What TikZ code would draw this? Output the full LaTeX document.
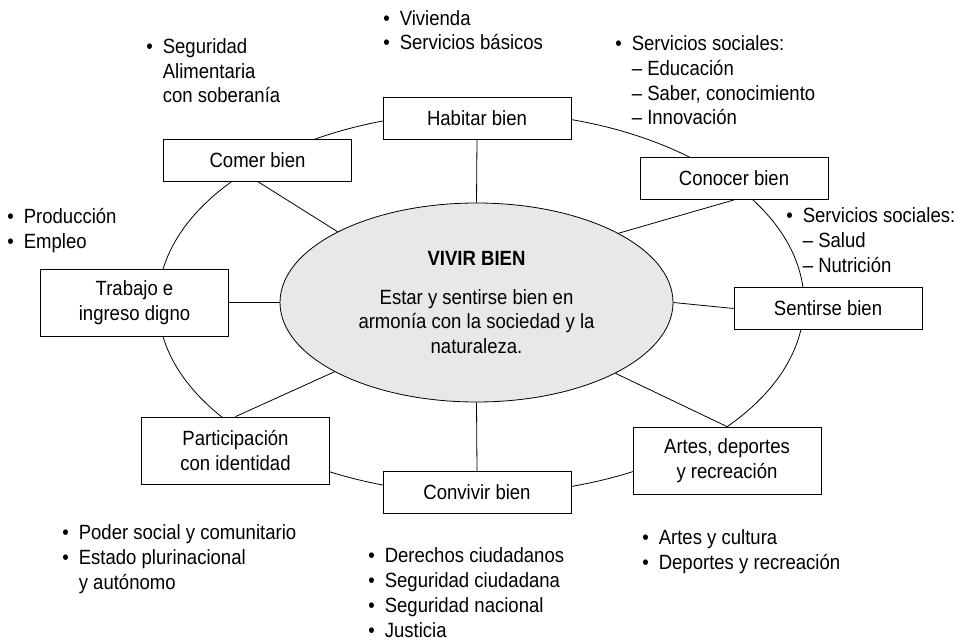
\documentclass[tikz,border=0pt]{standalone}
\usepackage{fontspec}
\setmainfont{Liberation Sans}[FakeStretch=0.9]
\usepackage{tikz}
\usetikzlibrary{shapes.geometric}

\newcommand{\itm}{\makebox[8.2pt][l]{\textbullet}}
\newcommand{\ind}{\hspace*{8.2pt}}

\begin{document}
\begin{tikzpicture}[x=0.5pt,y=-0.5pt,
  every node/.style={font=\fontsize{10.3}{12.4}\selectfont},
  box/.style={draw, fill=white, minimum width=94pt, minimum height=21pt, inner sep=0pt, align=center},
  boxtwo/.style={box, minimum height=33.5pt},
  lista/.style={anchor=base west, inner sep=0pt, align=left},
  vivirbien/.style={draw, ellipse, fill=gray!18, minimum width=196.5pt, minimum height=99.5pt, inner sep=0pt, align=center}]
\useasboundingbox (0,0) rectangle (969,642);

% outer ring
\draw (481,303) ellipse [x radius=161.5pt, y radius=95.5pt];

% centre
\node[vivirbien] (vivir) at (476.5,302.5) {\textbf{VIVIR BIEN}\\[7pt]Estar y sentirse bien en\\armonía con la sociedad y la\\naturaleza.};

% boxes on the ring
\node[box] (habitar) at (477,118) {Habitar bien};
\node[box] (comer) at (257.5,160) {Comer bien};
\node[box] (conocer) at (734,178.5) {Conocer bien};
\node[box] (sentir) at (828,308.5) {Sentirse bien};
\node[boxtwo] (trabajo) at (134.5,302.5) {Trabajo e\\ingreso digno};
\node[boxtwo] (participa) at (235.5,450.5) {Participación\\con identidad};
\node[box] (convivir) at (477,492.5) {Convivir bien};
\node[boxtwo] (artes) at (727,460.5) {Artes, deportes\\y recreación};

% spokes
\draw (habitar.south) -- (vivir.north);
\draw (comer.south) -- (vivir.153.5);
\draw (conocer.south) -- (vivir.26.5);
\draw (sentir.west) -- (vivir.east);
\draw (trabajo.east) -- (vivir.west);
\draw (participa.north) -- (vivir.206.5);
\draw (convivir.north) -- (vivir.south);
\draw (artes.north) -- (vivir.333.5);

% lists (base = last line)
\node[lista] (vivienda) at (383,50) {\itm Vivienda\\\itm Servicios básicos};
\node[lista] (alimento) at (146,103) {\itm Seguridad\\\ind Alimentaria\\\ind con soberanía};
\node[lista] (educa) at (615,125) {\itm Servicios sociales:\\\ind – Educación\\\ind – Saber, conocimiento\\\ind – Innovación};
\node[lista] (empleo) at (7,248) {\itm Producción\\\itm Empleo};
\node[lista] (salud) at (786,272) {\itm Servicios sociales:\\\ind – Salud\\\ind – Nutrición};
\node[lista] (poder) at (62,589) {\itm Poder social y comunitario\\\itm Estado plurinacional\\\ind y autónomo};
\node[lista] (derechos) at (368,637) {\itm Derechos ciudadanos\\\itm Seguridad ciudadana\\\itm Seguridad nacional\\\itm Justicia};
\node[lista] (cultura) at (642,569) {\itm Artes y cultura\\\itm Deportes y recreación};
\end{tikzpicture}
\end{document}
